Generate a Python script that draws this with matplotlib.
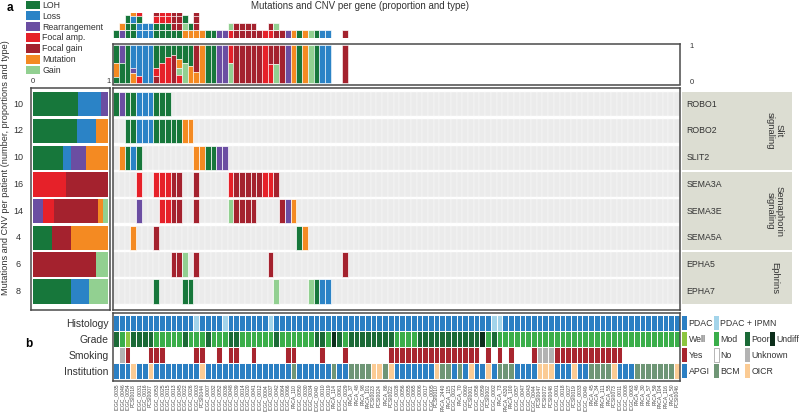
import numpy as np
import matplotlib.pyplot as plt
from matplotlib.patches import Patch

plt.rcParams['font.family'] = ['Liberation Sans', 'DejaVu Sans']

W, H = 800, 417


def box(x0, y0, x1, y1):
    return [x0 / W, 1 - y1 / H, (x1 - x0) / W, (y1 - y0) / H]


# alteration types
type_names = ["LOH", "Loss", "Rearrangement", "Focal amp.", "Focal gain", "Mutation", "Gain"]
type_codes = "LSRAFMG"
type_colors = ["#17773b", "#2b83c6", "#6b4ea2", "#e62129", "#a4222e", "#f48a22", "#92d091"]
color_of = dict(zip(type_codes, type_colors))

genes = ["ROBO1", "ROBO2", "SLIT2", "SEMA3A", "SEMA3E", "SEMA5A", "EPHA5", "EPHA7"]
groups = [("Slit\nsignaling", 0, 2), ("Semaphorin\nsignaling", 3, 5), ("Ephrins", 6, 7)]

# one character per patient column, '.' = no event
gene_events = [
    "LRLLSSSLLL",
    "..LLSSSLLLLLMM",
    ".MLSL" + "." * 9 + "MMLLRR",
    "....A..AAAFF..F....." + "AFFFFFAAF",
    "....R...AAFF..F....." + "GFFFF" + "...." + "FRM",
    "...M...F" + "." * 24 + "LM",
    "." * 10 + "FFG.F" + "." * 12 + "F" + "." * 12 + "F",
    "." * 7 + "L" + "." * 4 + "LL" + "." * 14 + "G" + "." * 5 + "GLSS",
]

# proportion of alteration types per patient (top to bottom)
prop_top = [
    [("L", .48), ("M", .35), ("L", .17)],
    [("R", .48), ("L", .52)],
    [("L", 1.0)],
    [("S", .6), ("R", .14), ("M", .26)],
    [("S", .82), ("A", .18)],
    [("S", 1.0)],
    [("S", 1.0)],
    [("L", .6), ("A", .22), ("F", .18)],
    [("L", .48), ("A", .52)],
    [("L", .3), ("A", .7)],
    [("L", .26), ("F", .74)],
    [("L", .35), ("M", .26), ("G", .17), ("A", .22)],
    [("L", .48), ("G", .52)],
    [("L", .55), ("M", .45)],
    [("F", .7), ("M", .3)],
    [("M", 1.0)], [("L", 1.0)], [("L", 1.0)], [("R", 1.0)], [("R", 1.0)],
    [("A", .48), ("G", .52)],
    [("F", 1.0)], [("F", 1.0)], [("F", 1.0)], [("F", 1.0)], [("F", 1.0)],
    [("A", 1.0)],
    [("F", .5), ("A", .5)],
    [("F", .5), ("G", .5)],
    [("F", 1.0)], [("R", 1.0)], [("M", 1.0)], [("L", 1.0)], [("M", 1.0)],
    [("G", 1.0)], [("L", 1.0)], [("S", 1.0)], [("S", 1.0)],
    [], [],
    [("F", 1.0)],
]

patients = [
    "ICGC_0035", "ICGC_0046", "ICGC_0054", "PCSI0018", "ICGC_0031", "ICGC_0016", "PCSI0007", "ICGC_0053",
    "ICGC_0025", "ICGC_0015", "ICGC_0013", "ICGC_0045", "ICGC_0022", "ICGC_0026", "ICGC_0003", "PCSI0044",
    "ICGC_0007", "ICGC_0032", "ICGC_0052", "ICGC_0036", "ICGC_0048", "ICGC_0039", "ICGC_0014", "ICGC_0020",
    "ICGC_0041", "ICGC_0012", "ICGC_0004", "ICGC_0037", "ICGC_0042", "ICGC_0064", "ICGC_0066", "PACA_110",
    "ICGC_0050", "ICGC_0030", "ICGC_0034", "ICGC_0040", "ICGC_0010", "ICGC_0019", "PACA_114", "ICGC_0061",
    "ICGC_0029", "PACA_37", "PACA_48", "PACA_98", "PACA_101", "PCSI0023", "PCSI0024", "PACA_86",
    "PCSI0022", "ICGC_0028", "ICGC_0056", "ICGC_0055", "ICGC_0065", "ICGC_0006", "ICGC_0017", "ICGC_0005",
    "PCSI0010", "PACA_2440", "PACA_115", "ICGC_0021", "PACA_70", "ICGC_0060", "PCSI0001", "ICGC_0058",
    "ICGC_0059", "PCSI0002", "ICGC_0002", "PACA_73", "PACA_4320", "PACA_100", "ICGC_0057", "ICGC_0047",
    "ICGC_0043", "ICGC_0044", "PCSI0047", "PCSI0072", "PCSI0048", "ICGC_0001", "ICGC_0018", "ICGC_0027",
    "PCSI0019", "ICGC_0033", "ICGC_0049", "PACA_45", "PACA_34", "PACA_111", "PACA_55", "PCSI0073",
    "ICGC_0011", "ICGC_0008", "ICGC_0063", "PACA_46", "PACA_30", "PACA_57", "PACA_59", "PACA_104",
    "PACA_116", "PACA_50", "PCSI0046",
]
n = len(patients)

# clinical tracks (column indices)
histology_ipmn = [14, 19, 27, 66, 67]
grade_well = [2]
grade_poor = [0, 3, 4, 5, 6, 12, 16, 20, 21, 28, 35, 36, 39] + list(range(41, 49)) + list(range(53, 64)) + [66]
grade_undiff = [38, 64]
smoking_yes = [2, 6, 7, 8, 14, 15, 18, 20, 21, 24, 30, 31, 36, 40] + list(range(48, 64)) + [65, 67, 69, 73] + list(range(77, 89))
smoking_unknown = [1, 74, 75, 76]
institution_of = {"ICGC": "APGI", "PACA": "BCM", "PCSI": "OICR"}

track_names = ["Histology", "Grade", "Smoking", "Institution"]
track_colors = {
    "PDAC": "#2b7fc3", "PDAC + IPMN": "#a3d4ea",
    "Well": "#8cc63f", "Mod": "#3aae4a", "Poor": "#1b6a37", "Undiff": "#0c2e1b",
    "Yes": "#a8262f", "No": "#ffffff", "Unknown": "#b3b3b3",
    "APGI": "#2b7fc3", "BCM": "#6f9676", "OICR": "#fbcb94",
}
track_legend = [["PDAC", "PDAC + IPMN"], ["Well", "Mod", "Poor", "Undiff"],
                ["Yes", "No", "Unknown"], ["APGI", "BCM", "OICR"]]

histology = ["PDAC + IPMN" if i in histology_ipmn else "PDAC" for i in range(n)]
grade = ["Well" if i in grade_well else "Poor" if i in grade_poor else "Undiff" if i in grade_undiff else "Mod"
         for i in range(n)]
smoking = ["Yes" if i in smoking_yes else "Unknown" if i in smoking_unknown else "No" for i in range(n)]
institution = [institution_of[p[:4]] for p in patients]
tracks = [histology, grade, smoking, institution]

spine_col = "#4a4a4a"
fig = plt.figure(figsize=(8, 4.17), dpi=100)

events = [row.ljust(n, ".") for row in gene_events]
xlim = (-0.55, n - 0.45)
row_h = 0.91

# ---- main heatmap
ax = fig.add_axes(box(113, 88, 680, 310))
for r, row in enumerate(events):
    bg = [c for c in range(n) if row[c] == "."]
    hit = [c for c in range(n) if row[c] != "."]
    ax.bar(bg, row_h, bottom=r, width=1, color="#ebebeb", edgecolor="#fbfbfb", linewidth=0.3, align="center")
    ax.bar(hit, row_h, bottom=r, width=1, color=[color_of[row[c]] for c in hit], edgecolor="white",
           linewidth=0.5, align="center")
ax.set_xlim(*xlim)
ax.set_ylim(8 - 0.05 + 0.2, -0.15)
ax.set_xticks([])
ax.set_yticks([])
for s in ax.spines.values():
    s.set_color(spine_col)
    s.set_linewidth(1.1)

# ---- left panel: proportion per gene
axl = fig.add_axes(box(31, 88, 110, 310))
for r, row in enumerate(events):
    hits = [ch for ch in row if ch != "."]
    left = 0
    for code in type_codes:
        k = hits.count(code)
        if k:
            axl.barh(r + row_h / 2, k / len(hits), left=left, height=row_h, color=color_of[code], linewidth=0)
            left += k / len(hits)
    axl.text(-0.19, r + row_h / 2, str(len(hits)), ha="center", va="center", fontsize=6.5, color="#333333")
axl.set_xlim(-0.02, 1.02)
axl.set_ylim(ax.get_ylim())
axl.set_yticks([])
axl.xaxis.tick_top()
axl.set_xticks([0, 1])
axl.set_xticklabels(["0", "1"], fontsize=5.5, color="#333333")
axl.tick_params(axis="x", length=0, pad=2)
for s in axl.spines.values():
    s.set_color(spine_col)
    s.set_linewidth(1.1)
axl.set_ylabel("Mutations and CNV per patient (number, proportions and type)", fontsize=6.6, color="#333333")
axl.yaxis.set_label_coords(-0.26, 0.64)

# ---- top: count per patient
axc = fig.add_axes(box(113, 13.3, 680, 37.5))
cx, cb, cc = [], [], []
for c in range(n):
    stack = [events[r][c] for r in range(len(events)) if events[r][c] != "."]
    for k, code in enumerate(stack):
        cx.append(c)
        cb.append(k)
        cc.append(color_of[code])
axc.bar(cx, 1, bottom=cb, width=1, color=cc, edgecolor="white", linewidth=0.5)
axc.set_xlim(*xlim)
axc.set_ylim(0, 3.3)
axc.axis("off")

# ---- top: proportion per patient
axp = fig.add_axes(box(113, 44, 680, 84.5))
px, pb, ph, pc = [], [], [], []
for c, segs in enumerate(prop_top):
    top = 1.0
    for code, frac in segs:
        px.append(c)
        pb.append(top - frac)
        ph.append(frac)
        pc.append(color_of[code])
        top -= frac
axp.bar(px, ph, bottom=pb, width=1, color=pc, edgecolor="white", linewidth=0.4)
axp.set_xlim(*xlim)
axp.set_ylim(-0.03, 1.03)
axp.set_xticks([])
axp.set_yticks([])
for s in axp.spines.values():
    s.set_color(spine_col)
    s.set_linewidth(1.1)
axp.text(1.017, 0.93, "1", transform=axp.transAxes, fontsize=5.5, va="center", color="#333333")
axp.text(1.017, 0.05, "0", transform=axp.transAxes, fontsize=5.5, va="center", color="#333333")

fig.text(360 / W, 1 - 6 / H, "Mutations and CNV per gene (proportion and type)", ha="center", va="center",
         fontsize=7, color="#333333")

# ---- legend top left
handles = [Patch(facecolor=col, edgecolor="none") for col in type_colors]
fig.legend(handles, type_names, loc="upper left", bbox_to_anchor=(26 / W, 1 - 0.5 / H), frameon=False,
           fontsize=6.3, handlelength=1.55, handleheight=1.1, handletextpad=0.3, labelspacing=0.2,
           borderpad=0, borderaxespad=0, labelcolor="#333333")

fig.text(7 / W, 1 - 8 / H, "a", fontsize=8.5, fontweight="bold", ha="left", va="center")
fig.text(25 / W, 1 - 344 / H, "b", fontsize=8.5, fontweight="bold", ha="left", va="center")

# ---- gene labels / pathway groups
axg = fig.add_axes(box(682, 88, 792, 310))
for name, r0, r1 in groups:
    axg.barh((r0 + r1 + row_h) / 2, 1, left=0, height=r1 - r0 + row_h, color="#dcddd2", linewidth=0)
    axg.text(0.84, (r0 + r1 + row_h) / 2, name, rotation=270, ha="center", va="center", fontsize=6.8,
             color="#333333", linespacing=0.95)
for r, g in enumerate(genes):
    axg.text(0.04, r + row_h / 2, g, ha="left", va="center", fontsize=6.3, color="#333333")
axg.set_xlim(0, 1)
axg.set_ylim(ax.get_ylim())
axg.axis("off")

# ---- clinical tracks
axa = fig.add_axes(box(113, 313, 680, 381))
for t, vals in enumerate(tracks):
    axa.bar(range(n), 1, bottom=t, width=1, color=[track_colors[v] for v in vals], edgecolor="white",
            linewidth=0.7)
axa.set_xlim(*xlim)
axa.set_ylim(4.12, -0.12)
axa.set_yticks([t + 0.5 for t in range(4)])
axa.set_yticklabels(track_names, fontsize=7.5, color="#333333")
axa.set_xticks(range(n))
axa.set_xticklabels(patients, rotation=90, fontsize=3.6, color="#444444")
axa.tick_params(length=0, pad=2)
axa.tick_params(axis="y", pad=3)
for s in axa.spines.values():
    s.set_color(spine_col)
    s.set_linewidth(1.1)

# ---- clinical legend
axk = fig.add_axes(box(682, 313, 800, 381))
slot_x = [0, 32, 63, 88]
for t, items in enumerate(track_legend):
    for k, name in enumerate(items):
        axk.bar(slot_x[k], 0.88, bottom=t + 0.06, width=5, align="edge", color=track_colors[name],
                edgecolor="#999999" if name == "No" else "none", linewidth=0.5)
        axk.text(slot_x[k] + 6.5, t + 0.52, name, ha="left", va="center", fontsize=6.3, color="#333333")
axk.set_xlim(0, 118)
axk.set_ylim(4.12, -0.12)
axk.axis("off")

fig.savefig("out.png", dpi=100)
